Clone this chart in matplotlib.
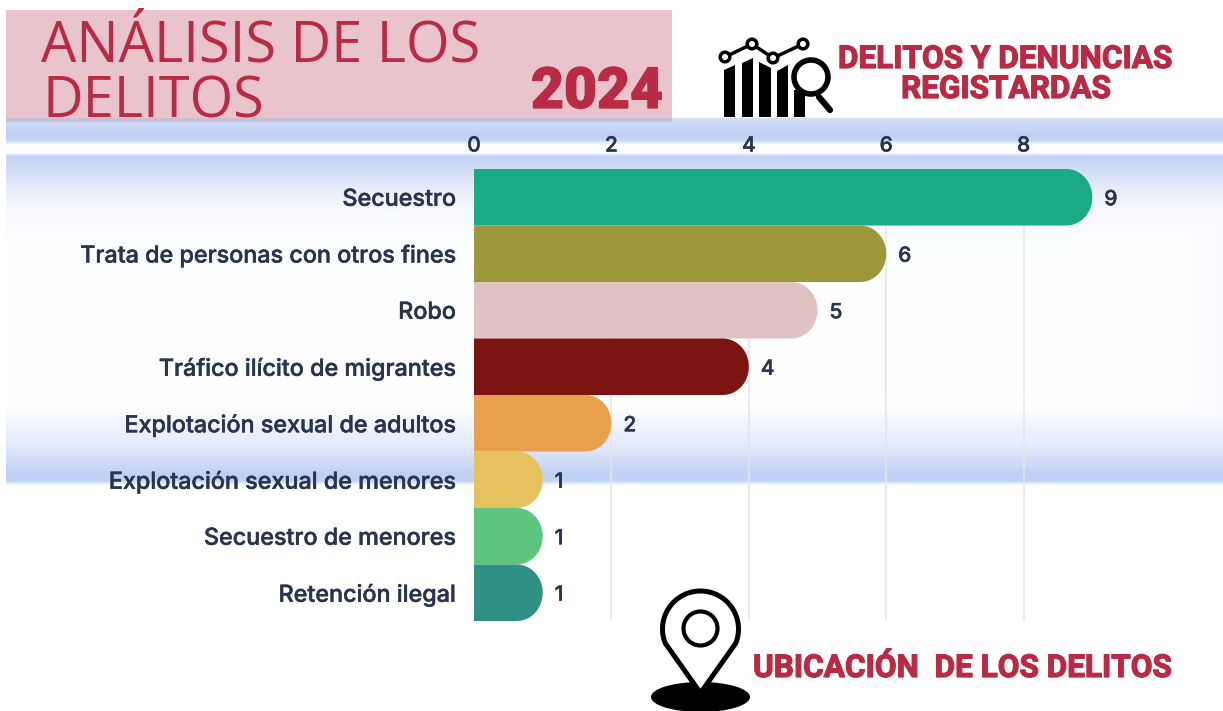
import numpy as np
from matplotlib import pyplot as plt
from matplotlib import patheffects as pe
from matplotlib.patches import Rectangle, Circle, Ellipse, Polygon

delitos = ['Secuestro', 'Trata de personas con otros fines', 'Robo', 'Tráfico ilícito de migrantes',
           'Explotación sexual de adultos', 'Explotación sexual de menores', 'Secuestro de menores',
           'Retención ilegal']
casos = [9, 6, 5, 4, 2, 1, 1, 1]
colores = ['#1BAA86', '#9C973A', '#DFC3C2', '#7C1512', '#E89F4E', '#E6C25E', '#5EC57F', '#2F9186']
x_ticks = [0, 2, 4, 6, 8]

ROJO = '#B92B45'
TINTA = '#2A3450'
W, H = 1223, 711
grueso = [pe.withStroke(linewidth=0.9, foreground=ROJO)]
medio = [pe.withStroke(linewidth=0.35, foreground=TINTA)]

fig = plt.figure(figsize=(W / 100, H / 100), dpi=100, facecolor='white')

#====================+
# Background, pixels |
#====================+
bg = fig.add_axes([0, 0, 1, 1], zorder=0)
bg.axis('off')

filas = np.arange(118, 487)
cols = np.arange(6, W)
stops_y = [118, 124, 135, 140, 144, 152, 156, 175, 190, 210, 235, 405, 443, 462, 473, 480, 485]
stops_t = [0.65, 0.80, 1.00, 0.85, 0.06, 0.04, 0.95, 0.62, 0.35, 0.14, 0.04, 0.02, 0.42, 0.75, 1.00, 0.95, 0.0]
t = np.interp(filas, stops_y, stops_t)
# faint tint that creeps in on the right edge
borde = np.interp(cols, [1160, 1223], [0.0, 0.10]) * np.interp(filas, [160, 190, 440, 480], [0, 1, 1, 0])[:, None]
t2d = np.maximum(t[:, None] * np.ones(len(cols)), borde)
azul = np.array([191, 208, 245]) / 255
img = 1 - t2d[:, :, None] * (1 - azul[None, None, :])
bg.imshow(img, extent=[6, W, 487, 118], aspect='auto', zorder=1)
bg.set_xlim(0, W)
bg.set_ylim(H, 0)

# title block
bloque = Rectangle((6, 10), 666, 108, facecolor='#E9C4CC', edgecolor='none', zorder=2)
bg.add_patch(bloque)
bg.add_patch(Rectangle((6, 118), 666, 3.5, facecolor='#C9BDD8', edgecolor='none', zorder=2))
t1 = bg.text(41, 62, 'ANÁLISIS DE LOS', family='Open Sans', fontsize=40.3, color=ROJO, zorder=3, va='baseline')
t2 = bg.text(43, 118, 'DELITOS', family='Open Sans', fontsize=40.3, color=ROJO, zorder=3, va='baseline')
t1.set_clip_path(bloque)
t2.set_clip_path(bloque)
bg.text(663, 108, '2024', family='Roboto', fontweight='black', fontsize=41, color=ROJO, ha='right', zorder=3,
        path_effects=grueso)

for texto, x, y in [('DELITOS Y DENUNCIAS', 1005, 59), ('REGISTARDAS', 1006, 89), ('UBICACIÓN  DE LOS DELITOS', 962.5, 668)]:
    bg.text(x, y, texto, family='Roboto', fontweight='bold', fontsize=22.7, color=ROJO, ha='center',
            va='center', zorder=3, path_effects=grueso)

#===========+
# Bar chart |
#===========+
px_unidad = 68.7
ax = fig.add_axes([474 / W, 1 - 621 / H, 9.6 * px_unidad / W, (621 - 169) / H], zorder=1)
ax.patch.set_alpha(0)
ax.set_xlim(0, 9.6)
ax.set_ylim(len(delitos) - 0.5, -0.5)
for s in ax.spines.values():
    s.set_visible(False)
ax.xaxis.tick_top()
ax.set_xticks(x_ticks)
ax.set_yticks(range(len(delitos)))
ax.set_yticklabels(delitos)
ax.tick_params(axis='x', length=0, pad=9.7, labelsize=15, labelcolor=TINTA)
ax.tick_params(axis='y', length=0, pad=13, labelsize=16.8, labelcolor=TINTA)
for lab in ax.get_xticklabels() + ax.get_yticklabels():
    lab.set_family('Inter')
    lab.set_fontweight('medium')
    lab.set_path_effects(medio)
ax.grid(axis='x', color='#E3E5EA', linewidth=1.1)
ax.set_axisbelow(True)


def barra(y, valor, color):
    # bar with rounded right end
    rx = 26 / px_unidad
    ry = 28 / 56.5
    a = np.linspace(-np.pi / 2, 0, 20)
    b = np.linspace(0, np.pi / 2, 20)
    xs = [0] + list(valor - rx + rx * np.cos(a)) + list(valor - rx + rx * np.cos(b)) + [0]
    ys = [y - 0.5] + list(y - 0.5 + ry + ry * np.sin(a)) + list(y + 0.5 - ry + ry * np.sin(b)) + [y + 0.5]
    ax.add_patch(Polygon(np.column_stack([xs, ys]), closed=True, facecolor=color, edgecolor='none', zorder=3))


for i in range(len(delitos)):
    barra(i, casos[i], colores[i])
    ax.text(casos[i] + 12 / px_unidad, i, str(casos[i]), family='Inter', fontweight='medium', fontsize=15,
            color=TINTA, va='center_baseline', ha='left', path_effects=medio)

#=======+
# Icons |
#=======+
ov = fig.add_axes([0, 0, 1, 1], zorder=2)
ov.set_xlim(0, W)
ov.set_ylim(H, 0)
ov.axis('off')

# chart + magnifier
barras_icono = [(724, 735, 70, 65), (742, 753, 63, 58), (759, 771, 62, 68), (777, 788, 71, 65), (794, 805, 90, 90)]
for x0, x1, y0, y1 in barras_icono:
    ov.add_patch(Polygon([(x0, 117), (x0, y0), (x1, y1), (x1, 117)], facecolor='black', edgecolor='none'))
nodos = [(725, 57), (752, 44), (773, 58), (803, 44)]
ov.plot([n[0] for n in nodos], [n[1] for n in nodos], color='black', lw=2.5, zorder=3)
for n in nodos:
    ov.add_patch(Circle(n, 4.8, facecolor='white', edgecolor='black', lw=2.5, zorder=4))
ov.add_patch(Circle((811, 77), 17, facecolor='white', edgecolor='black', lw=4, zorder=4))
ov.plot([819, 830], [97, 110], color='black', lw=4.5, solid_capstyle='round', zorder=4)

# location pin
cx, cy, r = 700.5, 629, 38
ov.add_patch(Ellipse((cx, 697), 99, 30, facecolor='black', edgecolor='none', zorder=3))
ang = np.linspace(np.radians(-22), np.radians(202), 60)
px = list(cx + r * np.cos(ang)) + [cx]
py = list(cy - r * np.sin(ang)) + [693]
ov.add_patch(Polygon(np.column_stack([px, py]), closed=True, facecolor='white', edgecolor='black', lw=3.6,
                     joinstyle='miter', zorder=4))
ov.add_patch(Circle((cx, 628.5), 17, facecolor='white', edgecolor='black', lw=3, zorder=5))

fig.savefig('out.png', dpi=100)
